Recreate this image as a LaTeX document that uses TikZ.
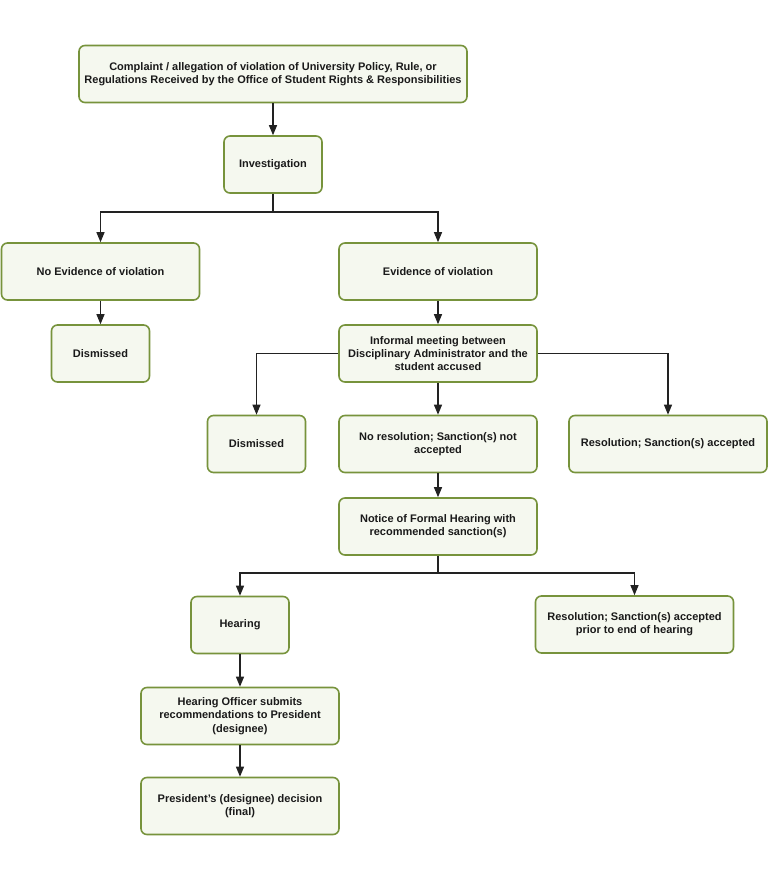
\documentclass[tikz,border=0pt]{standalone}
\usepackage{fontspec}
\setmainfont{Liberation Sans}
\usetikzlibrary{arrows.meta}
\definecolor{boxborder}{HTML}{77933C}
\definecolor{boxfill}{HTML}{F5F8EF}
\definecolor{txtcol}{HTML}{1A1A1A}
\definecolor{linecol}{HTML}{222222}
\begin{document}
\begin{tikzpicture}[x=1pt,y=-1pt,
  flowbox/.style={draw=boxborder, fill=boxfill, line width=1.6pt, rounded corners=6pt,
    align=center, font=\fontsize{11}{13.3}\selectfont\bfseries, text=txtcol,
    inner sep=2pt, minimum height=57pt},
  widebox/.style={flowbox, minimum width=198pt},
  narrowbox/.style={flowbox, minimum width=98pt},
  conn/.style={draw=linecol, line width=1.1pt, -{Triangle[length=10pt,width=8pt]}},
  plainline/.style={draw=linecol, line width=1.1pt}]
\useasboundingbox (0,0) rectangle (768,880);
\fill[white] (0,0) rectangle (768,880);

\node[flowbox, minimum width=388pt] (c1) at (273,74) {Complaint / allegation of violation of University Policy, Rule, or\\Regulations Received by the Office of Student Rights \& Responsibilities};
\node[narrowbox] (inv) at (273,164.5) {Investigation};
\node[widebox] (noev) at (100.5,271.5) {No Evidence of violation};
\node[widebox] (ev) at (438,271.5) {Evidence of violation};
\node[narrowbox] (dis1) at (100.5,353.5) {Dismissed};
\node[widebox] (inf) at (438,353.5) {Informal meeting between\\Disciplinary Administrator and the\\student accused};
\node[narrowbox] (dis2) at (256.5,444) {Dismissed};
\node[widebox] (nores) at (438,444) {No resolution; Sanction(s) not\\accepted};
\node[widebox] (res) at (668,444) {Resolution; Sanction(s) accepted};
\node[widebox] (notice) at (438,526.5) {Notice of Formal Hearing with\\recommended sanction(s)};
\node[narrowbox] (hear) at (240,625) {Hearing};
\node[widebox] (res2) at (634.5,624.5) {Resolution; Sanction(s) accepted\\prior to end of hearing};
\node[widebox] (off) at (240,716) {Hearing Officer submits\\recommendations to President\\(designee)};
\node[widebox] (pres) at (240,806) {President's (designee) decision\\(final)};

\coordinate (s1) at (273,212);
\coordinate (s2) at (438,573);

\draw[conn] (c1) -- (inv);
\draw[plainline] (inv) -- (s1);
\draw[conn] (s1) -| (noev);
\draw[conn] (s1) -| (ev);
\draw[conn] (noev) -- (dis1);
\draw[conn] (ev) -- (inf);
\draw[conn] (inf.west) -| (dis2);
\draw[conn] (inf) -- (nores);
\draw[conn] (inf.east) -| (res);
\draw[conn] (nores) -- (notice);
\draw[plainline] (notice) -- (s2);
\draw[conn] (s2) -| (hear);
\draw[conn] (s2) -| (res2);
\draw[conn] (hear) -- (off);
\draw[conn] (off) -- (pres);
\end{tikzpicture}
\end{document}
